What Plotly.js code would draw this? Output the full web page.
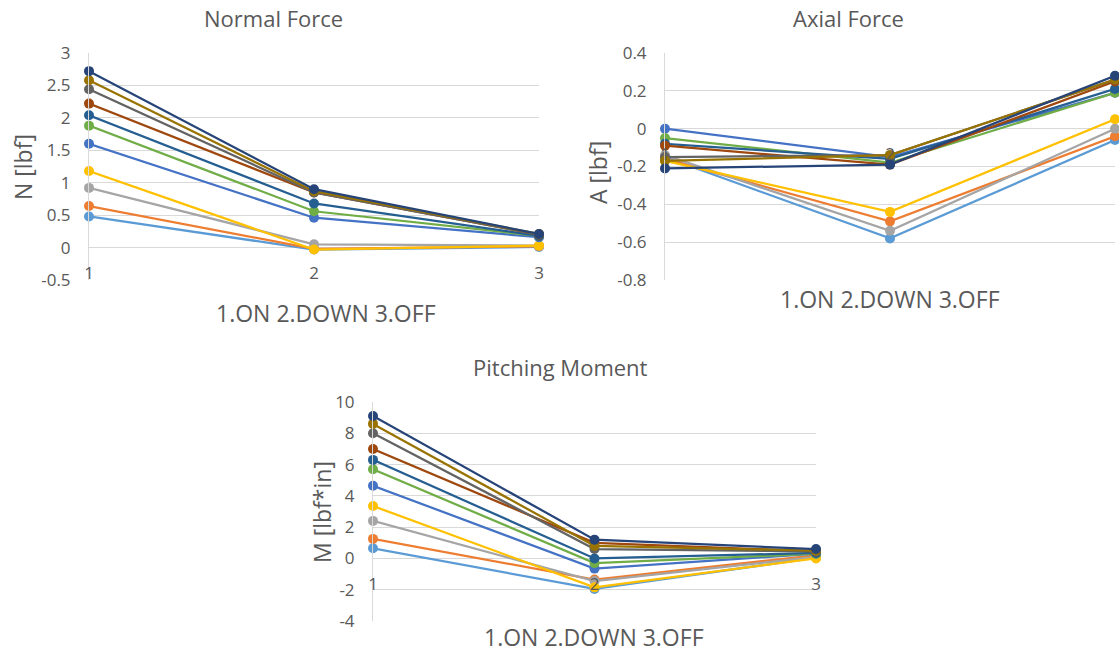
<!DOCTYPE html>
<html>
<head>
<meta charset="utf-8">
<script src="https://cdn.plot.ly/plotly-3.0.1.min.js"></script>
<style>html,body{margin:0;padding:0;background:#fff}#chart{width:1119px;height:653px}</style>
</head>
<body>
<div id="chart"></div>
<script>
// ---- data ----
const positions = [1, 2, 3];
const positionLabels = ["1", "2", "3"];
const xAxisTitle = "1.ON 2.DOWN 3.OFF";

const seriesColors = ["#5B9BD5", "#ED7D31", "#A5A5A5", "#FFC000", "#4472C4", "#70AD47",
                      "#255E91", "#9E480E", "#636363", "#997300", "#264478"];

// Normal Force N [lbf], one row per series (values at positions 1,2,3)
const normalS1  = [0.48, -0.03, 0.01];
const normalS2  = [0.64, -0.02, 0.02];
const normalS3  = [0.92,  0.05, 0.03];
const normalS4  = [1.18, -0.03, 0.03];
const normalS5  = [1.60,  0.46, 0.16];
const normalS6  = [1.88,  0.56, 0.18];
const normalS7  = [2.04,  0.68, 0.18];
const normalS8  = [2.22,  0.85, 0.20];
const normalS9  = [2.44,  0.85, 0.20];
const normalS10 = [2.58,  0.87, 0.21];
const normalS11 = [2.72,  0.90, 0.21];

// Axial Force A [lbf]
const axialS1  = [-0.15, -0.58, -0.06];
const axialS2  = [-0.16, -0.49, -0.04];
const axialS3  = [-0.14, -0.54,  0.00];
const axialS4  = [-0.17, -0.44,  0.05];
const axialS5  = [ 0.00, -0.15,  0.19];
const axialS6  = [-0.05, -0.18,  0.19];
const axialS7  = [-0.08, -0.16,  0.21];
const axialS8  = [-0.09, -0.19,  0.25];
const axialS9  = [-0.15, -0.14,  0.26];
const axialS10 = [-0.17, -0.14,  0.26];
const axialS11 = [-0.21, -0.19,  0.28];

// Pitching Moment M [lbf*in]
const momentS1  = [0.65, -1.95, 0.05];
const momentS2  = [1.25, -1.35, 0.20];
const momentS3  = [2.40, -1.45, 0.10];
const momentS4  = [3.35, -1.85, 0.00];
const momentS5  = [4.65, -0.65, 0.30];
const momentS6  = [5.70, -0.30, 0.30];
const momentS7  = [6.30,  0.00, 0.35];
const momentS8  = [7.00,  1.00, 0.45];
const momentS9  = [8.00,  0.60, 0.45];
const momentS10 = [8.60,  0.80, 0.50];
const momentS11 = [9.10,  1.20, 0.60];

const normalTicks = [-0.5, 0, 0.5, 1, 1.5, 2, 2.5, 3];
const normalTickLabels = ["-0.5", "0", "0.5", "1", "1.5", "2", "2.5", "3"];
const axialTicks = [-0.8, -0.6, -0.4, -0.2, 0, 0.2, 0.4];
const axialTickLabels = ["-0.8", "-0.6", "-0.4", "-0.2", "0", "0.2", "0.4"];
const momentTicks = [-4, -2, 0, 2, 4, 6, 8, 10];
const momentTickLabels = ["-4", "-2", "0", "2", "4", "6", "8", "10"];

const normalSeries = [normalS1, normalS2, normalS3, normalS4, normalS5, normalS6, normalS7, normalS8, normalS9, normalS10, normalS11];
const axialSeries = [axialS1, axialS2, axialS3, axialS4, axialS5, axialS6, axialS7, axialS8, axialS9, axialS10, axialS11];
const momentSeries = [momentS1, momentS2, momentS3, momentS4, momentS5, momentS6, momentS7, momentS8, momentS9, momentS10, momentS11];

// ---- layout helpers (pixel -> paper) ----
const W = 1119, H = 653;
const px = v => v / W;
const py = v => 1 - v / H;
const FONT = "Open Sans, Noto Sans, sans-serif";
const TXT = "#595959";
const GRID = "#D9D9D9";

const traces = [];
function addSet(series, xa, ya) {
  series.forEach((vals, i) => {
    traces.push({
      x: positions, y: vals, xaxis: xa, yaxis: ya,
      type: "scatter", mode: "lines+markers", cliponaxis: false,
      line: {color: seriesColors[i], width: 2.25},
      marker: {color: seriesColors[i], size: 10},
      hoverinfo: "skip"
    });
  });
}
addSet(normalSeries, "x", "y");
addSet(axialSeries, "x2", "y2");
addSet(momentSeries, "x3", "y3");

function yAxis(domTop, domBot, range, tv, tt, anchor) {
  return {
    domain: [py(domBot), py(domTop)], range: range, anchor: anchor,
    tickvals: tv, ticktext: tt, ticks: "", ticklabelstandoff: 14,
    showgrid: true, gridcolor: GRID, gridwidth: 1,
    showline: true, linecolor: GRID, linewidth: 1,
    zeroline: true, zerolinecolor: GRID, zerolinewidth: 1,
    tickfont: {family: FONT, size: 17, color: TXT}, fixedrange: true
  };
}
function xAxis(left, right, zeroY) {
  return {
    domain: [px(left), px(right)], range: [1, 3], anchor: "free", position: py(zeroY),
    tickvals: positions, ticktext: positionLabels, ticks: "", ticklabelstandoff: 13,
    showgrid: false, showline: false, zeroline: false,
    tickfont: {family: FONT, size: 17, color: TXT}, fixedrange: true
  };
}

function ann(text, x, y, size, angle) {
  return {text: text, xref: "paper", yref: "paper", x: px(x), y: py(y),
          xanchor: "center", yanchor: "middle", showarrow: false,
          textangle: angle || 0, font: {family: FONT, size: size, color: TXT}};
}

const layout = {
  width: W, height: H, margin: {l: 0, r: 0, t: 0, b: 0},
  paper_bgcolor: "#fff", plot_bgcolor: "rgba(0,0,0,0)", showlegend: false,
  xaxis: xAxis(89, 539, 248),
  yaxis: yAxis(53, 280, [-0.5, 3], normalTicks, normalTickLabels, "x"),
  xaxis2: xAxis(665, 1115, 129),
  yaxis2: yAxis(53, 280, [-0.8, 0.4], axialTicks, axialTickLabels, "x2"),
  xaxis3: xAxis(373, 816, 559),
  yaxis3: yAxis(402, 621, [-4, 10], momentTicks, momentTickLabels, "x3"),
  annotations: [
    ann("Normal Force", 273, 18, 22),
    ann("Axial Force", 848, 18, 22),
    ann("Pitching Moment", 560, 367, 22),
    ann(xAxisTitle, 326, 313, 23),
    ann(xAxisTitle, 890, 299, 23),
    ann(xAxisTitle, 594, 637, 23),
    ann("N [lbf]", 23, 167, 23, -90),
    ann("A [lbf]", 598, 172, 23, -90),
    ann("M [lbf*in]", 322, 512, 23, -90)
  ]
};

Plotly.newPlot("chart", traces, layout, {staticPlot: true, displayModeBar: false});
</script>
</body>
</html>
